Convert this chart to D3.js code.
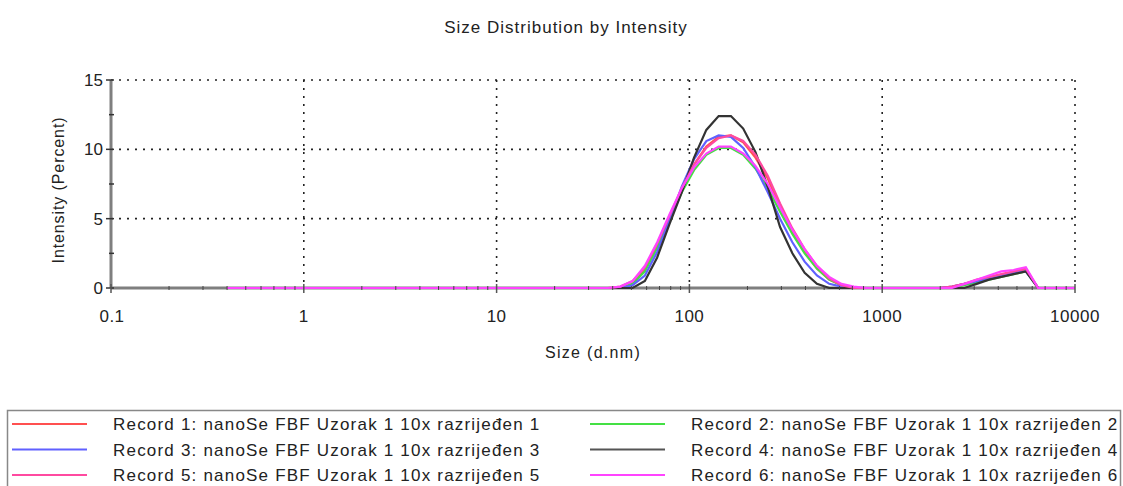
<!DOCTYPE html>
<html>
<head>
<meta charset="utf-8">
<script src="https://cdn.jsdelivr.net/npm/d3@7"></script>
<style>
  body { margin: 0; background: #fff; }
  text { font-family: "Liberation Sans", Arial, sans-serif; fill: #222; }
</style>
</head>
<body>
<svg width="1123" height="486"></svg>
<script>
// size bins (d.nm), standard log-spaced classes
const sizes = [0.4, 0.4632, 0.5365, 0.6213, 0.7195, 0.8332, 0.9649, 1.117, 1.294, 1.499,
  1.736, 2.01, 2.328, 2.696, 3.122, 3.615, 4.187, 4.849, 5.615, 6.503,
  7.531, 8.721, 10.1, 11.7, 13.54, 15.69, 18.17, 21.04, 24.36, 28.21,
  32.67, 37.84, 43.82, 50.75, 58.77, 68.06, 78.82, 91.28, 105.7, 122.4,
  141.8, 164.2, 190.1, 220.2, 255.0, 295.3, 342.0, 396.1, 458.7, 531.2,
  615.1, 712.4, 825.0, 955.4, 1106, 1281, 1484, 1718, 1990, 2305,
  2669, 3091, 3580, 4145, 4801, 5560, 6439, 7456, 8635, 10000];

// intensity (%) per bin; first 32 bins (0.4 .. 37.84) are zero for every record
const zeros32 = [0,0,0,0,0,0,0,0,0,0, 0,0,0,0,0,0,0,0,0,0, 0,0,0,0,0,0,0,0,0,0, 0,0];
const record1 = zeros32.concat([0, 0.3, 1.3, 3.0, 5.0, 7.1, 8.9, 10.2,
  10.9, 11.0, 10.5, 9.4, 7.9, 5.8, 4.1, 2.6, 1.4, 0.6,
  0.2, 0, 0, 0, 0, 0, 0, 0, 0, 0.1,
  0.3, 0.5, 0.7, 0.9, 1.1, 1.3, 0, 0, 0, 0]);
const record2 = zeros32.concat([0, 0.3, 1.2, 2.9, 4.9, 6.9, 8.5, 9.6,
  10.1, 10.1, 9.6, 8.6, 7.2, 5.5, 3.9, 2.5, 1.4, 0.6,
  0.2, 0, 0, 0, 0, 0, 0, 0, 0, 0,
  0.2, 0.4, 0.6, 0.8, 1.0, 1.2, 0, 0, 0, 0]);
const record3 = zeros32.concat([0, 0.2, 0.9, 2.6, 4.9, 7.3, 9.3, 10.6,
  11.0, 10.9, 10.1, 8.7, 6.9, 5.0, 3.3, 1.9, 0.9, 0.3,
  0.1, 0, 0, 0, 0, 0, 0, 0, 0, 0.1,
  0.3, 0.5, 0.7, 0.9, 1.1, 1.2, 0, 0, 0, 0]);
const record4 = zeros32.concat([0, 0, 0.5, 2.2, 4.6, 6.9, 9.4, 11.4,
  12.4, 12.4, 11.5, 9.8, 7.3, 4.4, 2.5, 1.1, 0.3, 0,
  0, 0, 0, 0, 0, 0, 0, 0, 0, 0,
  0, 0.3, 0.6, 0.8, 1.0, 1.2, 0, 0, 0, 0]);
const record5 = zeros32.concat([0.1, 0.5, 1.5, 3.2, 5.2, 7.2, 8.9, 10.1,
  10.8, 11.0, 10.6, 9.6, 8.1, 6.1, 4.3, 2.8, 1.6, 0.7,
  0.2, 0, 0, 0, 0, 0, 0, 0, 0, 0.1,
  0.3, 0.6, 0.8, 1.0, 1.2, 1.4, 0, 0, 0, 0]);
const record6 = zeros32.concat([0.1, 0.5, 1.6, 3.3, 5.3, 7.2, 8.7, 9.7,
  10.2, 10.2, 9.7, 8.8, 7.5, 5.8, 4.2, 2.8, 1.6, 0.8,
  0.3, 0.1, 0, 0, 0, 0, 0, 0, 0, 0,
  0.3, 0.6, 0.9, 1.2, 1.3, 1.5, 0, 0, 0, 0]);

const recordNames = [
  "Record 1: nanoSe FBF Uzorak 1 10x razrijeđen 1",
  "Record 2: nanoSe FBF Uzorak 1 10x razrijeđen 2",
  "Record 3: nanoSe FBF Uzorak 1 10x razrijeđen 3",
  "Record 4: nanoSe FBF Uzorak 1 10x razrijeđen 4",
  "Record 5: nanoSe FBF Uzorak 1 10x razrijeđen 5",
  "Record 6: nanoSe FBF Uzorak 1 10x razrijeđen 6"];
const recordColors = ["#ff5050", "#44e044", "#6060ff", "#333333", "#ff4aa0", "#ff44ff"];
const legendColors = ["#ff5050", "#44e044", "#6060ff", "#555555", "#ff4aa0", "#ff44ff"];
const records = [record1, record2, record3, record4, record5, record6];

const xTicks = [0.1, 1, 10, 100, 1000, 10000];
const yTicks = [0, 5, 10, 15];

const svg = d3.select("svg");
const pLeft = 111, pRight = 1075, pTop = 80, pBottom = 288;

const x = d3.scaleLog().domain([0.1, 10000]).range([pLeft, pRight]);
const y = d3.scaleLinear().domain([0, 15]).range([pBottom, pTop]);

// title
svg.append("text").attr("x", 566).attr("y", 33)
  .attr("text-anchor", "middle").style("font-size", "17px").style("letter-spacing", "1px")
  .text("Size Distribution by Intensity");

// dotted grid
const grid = svg.append("g").attr("stroke", "#222").attr("stroke-width", 1.6)
  .attr("stroke-dasharray", "2,6");
grid.selectAll(".h").data(yTicks.slice(1)).enter().append("line")
  .attr("x1", pLeft).attr("x2", pRight)
  .attr("y1", d => y(d)).attr("y2", d => y(d));
grid.selectAll(".v").data(xTicks.slice(1)).enter().append("line")
  .attr("x1", d => x(d)).attr("x2", d => x(d))
  .attr("y1", pTop).attr("y2", pBottom);

// solid axis lines
svg.append("line").attr("x1", pLeft).attr("x2", pLeft).attr("y1", pTop).attr("y2", pBottom)
  .attr("stroke", "#7f7f7f").attr("stroke-width", 3);
svg.append("line").attr("x1", pLeft).attr("x2", pRight).attr("y1", pBottom).attr("y2", pBottom)
  .attr("stroke", "#7f7f7f").attr("stroke-width", 3);

// tick marks
const yMinor = [2.5, 7.5, 12.5];
svg.append("g").selectAll("line").data(yTicks).enter().append("line")
  .attr("x1", pLeft - 5).attr("x2", pLeft + 3)
  .attr("y1", d => y(d)).attr("y2", d => y(d))
  .attr("stroke", "#333").attr("stroke-width", 1.5);
svg.append("g").selectAll("line").data(yMinor).enter().append("line")
  .attr("x1", pLeft - 2).attr("x2", pLeft + 3)
  .attr("y1", d => y(d)).attr("y2", d => y(d))
  .attr("stroke", "#333").attr("stroke-width", 1.5);

const xMinor = [];
xTicks.slice(0, -1).forEach(d => { for (let k = 2; k <= 9; k++) xMinor.push(d * k); });

// labels
svg.append("g").selectAll("text").data(yTicks).enter().append("text")
  .attr("x", 103).attr("y", d => y(d) + 6)
  .attr("text-anchor", "end").style("font-size", "17px").text(d => d);
svg.append("g").selectAll("text").data(xTicks).enter().append("text")
  .attr("x", d => x(d) + (d === 0.1 ? 1 : 0)).attr("y", 322)
  .attr("text-anchor", "middle").style("font-size", "17px").style("letter-spacing", "0.5px")
  .text(d => d);

svg.append("text").attr("transform", "translate(64,190) rotate(-90)")
  .attr("text-anchor", "middle").style("font-size", "16px").style("letter-spacing", "0.9px")
  .text("Intensity (Percent)");
svg.append("text").attr("x", 593).attr("y", 358)
  .attr("text-anchor", "middle").style("font-size", "16px").style("letter-spacing", "1.3px")
  .text("Size (d.nm)");

// curves
const line = d3.line().x((d, i) => x(sizes[i])).y(d => y(d));
svg.append("g").selectAll("path").data(records).enter().append("path")
  .attr("d", line)
  .attr("fill", "none")
  .attr("stroke", (d, i) => recordColors[i])
  .attr("stroke-width", 2.2);

// x ticks drawn over the baseline
svg.append("g").selectAll("line").data(xMinor).enter().append("line")
  .attr("x1", d => x(d)).attr("x2", d => x(d))
  .attr("y1", pBottom - 2).attr("y2", pBottom + 2)
  .attr("stroke", "#444").attr("stroke-width", 1);
svg.append("g").selectAll("line").data(xTicks).enter().append("line")
  .attr("x1", d => x(d)).attr("x2", d => x(d))
  .attr("y1", pBottom - 4).attr("y2", pBottom + 5)
  .attr("stroke", "#555").attr("stroke-width", 1.5);

// legend
svg.append("rect").attr("x", 7.5).attr("y", 410.5).attr("width", 1113).attr("height", 100)
  .attr("fill", "none").attr("stroke", "#888").attr("stroke-width", 1.5);
const legend = svg.append("g").selectAll("g").data(recordNames).enter().append("g")
  .attr("transform", (d, i) => "translate(" + (i % 2 === 0 ? 12 : 590) + "," + (424 + Math.floor(i / 2) * 25.5) + ")");
legend.append("line").attr("x1", 0).attr("x2", 75)
  .attr("stroke", (d, i) => legendColors[i]).attr("stroke-width", 1.8);
legend.append("text").attr("x", 101).attr("y", 6)
  .style("font-size", "17px").style("letter-spacing", "1.2px").text(d => d);
</script>
</body>
</html>
